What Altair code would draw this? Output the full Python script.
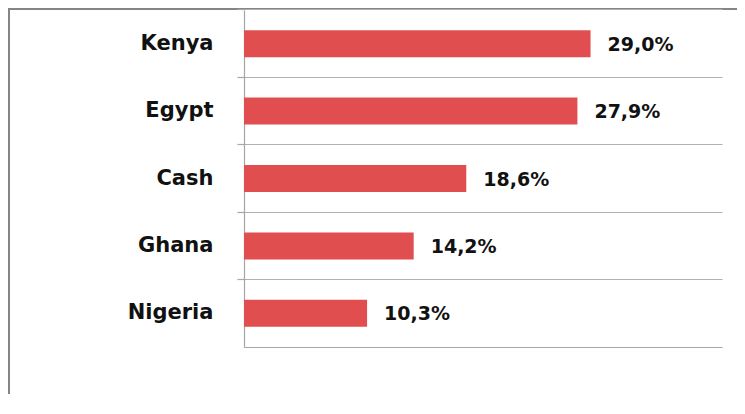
import altair as alt
import pandas as pd

categories = ["Kenya", "Egypt", "Cash", "Ghana", "Nigeria"]
values = [29.0, 27.9, 18.6, 14.2, 10.3]
labels = [f"{v:.1f}".replace(".", ",") + "%" for v in values]

df = pd.DataFrame({"cat": categories, "val": values, "lab": labels})

W, H = 760, 430

x_enc = alt.X("val:Q", scale=alt.Scale(domain=[0, 40], range=[235, 713], nice=False),
              axis=alt.Axis(title=None, labels=False, ticks=False, grid=False,
                            domain=True, domainColor="#a6a6a6", domainWidth=1.2,
                            offset=-(H - 338)))
y_enc = alt.Y("cat:N", sort=categories,
              scale=alt.Scale(range=[1, 338], paddingInner=0.6, paddingOuter=0.3),
              axis=alt.Axis(title=None, offset=-235, bandPosition=-0.75,
                            domainColor="#a6a6a6", domainWidth=1.2,
                            tickColor="#a6a6a6", tickSize=7, tickWidth=1.2,
                            grid=True, gridColor="#b0b0b0", gridWidth=1.2,
                            labelFont="DejaVu Sans", labelFontWeight="bold",
                            labelFontSize=21, labelColor="#111111",
                            labelPadding=24, labelAlign="right"))

bars = alt.Chart(df).mark_bar(color="#E04E50").encode(x=x_enc, y=y_enc)
text = alt.Chart(df).mark_text(align="left", baseline="middle", dx=17, dy=1,
                               font="DejaVu Sans", fontWeight="bold",
                               fontSize=19, color="#111111").encode(
    x=alt.X("val:Q"), y=alt.Y("cat:N", sort=categories), text="lab:N")

chart = (bars + text).properties(
    width=W, height=H,
    autosize=alt.AutoSizeParams(type="none"),
    padding={"left": 1, "top": 1, "right": -32, "bottom": -45},
).configure(background="white").configure_view(stroke="#858585", strokeWidth=2)

chart.save("out.html", embed_options={"renderer": "svg", "actions": False})
